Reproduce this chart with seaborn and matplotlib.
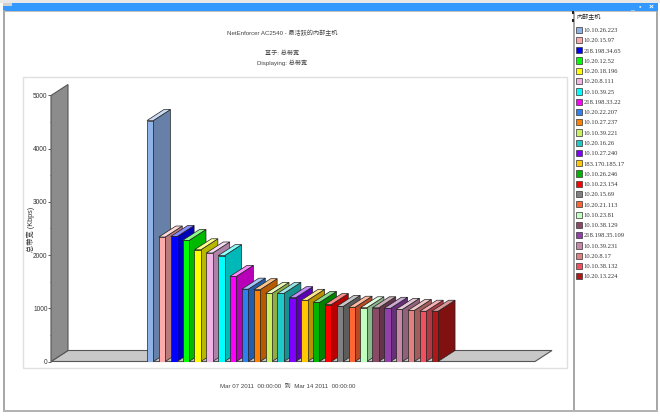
"""NetEnforcer top internal hosts: pseudo-3D bars drawn over a seaborn barplot."""

import matplotlib
matplotlib.use("Agg")
import matplotlib.pyplot as plt
import pandas as pd
import seaborn as sns
from matplotlib.colors import to_rgb
from matplotlib.patches import Patch, Polygon, Rectangle

hosts = [
    "10.10.26.223", "10.20.15.97", "218.198.34.65", "10.20.12.52", "10.20.18.196",
    "10.20.8.111", "10.10.39.25", "218.198.33.22", "10.20.22.207", "10.10.27.237",
    "10.10.39.221", "10.20.16.26", "10.10.27.240", "183.170.185.17", "10.10.26.246",
    "10.10.23.154", "10.20.15.69", "10.20.21.113", "10.10.23.81", "10.10.38.129",
    "218.198.35.109", "10.10.39.231", "10.20.8.17", "10.10.38.132", "10.20.13.224",
]
bandwidth = [
    4530, 2340, 2350, 2275, 2100, 2040, 1990, 1600, 1360, 1350, 1280, 1280, 1200,
    1150, 1110, 1070, 1035, 1020, 1010, 1010, 1000, 980, 960, 945, 945,
]
colors = [
    "#8fb2e8", "#ffaaaa", "#0000ff", "#00ff00", "#ffff00", "#f0b4e6", "#00ffff",
    "#ff00ff", "#2f80ee", "#ff7f00", "#c8f060", "#20c8c8", "#7f00ff", "#ffc800",
    "#00b400", "#ff0000", "#808080", "#ff6633", "#c0ffc0", "#8a4a66", "#9040a8",
    "#c888a8", "#e08080", "#f05060", "#b01818",
]
y_major = [0, 1000, 2000, 3000, 4000, 5000]
y_minor = [500, 1500, 2500, 3500, 4500]

W, H = 660, 419
DEPTH_X, DEPTH_Y = 17, 11   # pseudo-3D offset, pixels
FONT = ["Liberation Sans", "Noto Sans CJK SC", "DejaVu Sans"]
LEGEND_FONT = ["Liberation Serif", "Noto Sans CJK SC", "DejaVu Sans"]

sns.set_theme(style="white")
plt.rcParams["font.family"] = FONT

fig = plt.figure(figsize=(W / 100, H / 100), dpi=100, facecolor="white")


def px_rect(x0, y0, x1, y1, color, **kw):
    """Rectangle on the figure, in image pixels from the top left."""
    fig.add_artist(Rectangle((x0 / W, 1 - y1 / H), (x1 - x0) / W, (y1 - y0) / H,
                             transform=fig.transFigure, facecolor=color, zorder=-1,
                             edgecolor=kw.pop("edge", "none"), linewidth=kw.pop("lw", 0), **kw))


def px_text(x, y, s, **kw):
    fig.text(x / W, 1 - y / H, s, va="center", **kw)


# ── Window chrome ─────────────────────────────────────────────────────────────
px_rect(0, 0, W, 3, "#e8e8e8")
px_rect(3, 3, 658, 11, "#3399ff")
px_rect(3, 3, 12, 6, "#d0d0d0")
px_rect(3, 10, 5, 410, "#a8a8a8")
px_rect(3, 410, 658, 412, "#b4b4b4")
px_rect(573, 11, 575, 410, "#a8a8a8")
px_rect(656, 11, 658, 410, "#a8a8a8")
px_rect(5, 11, 656, 12, "#c0c0c0")
px_rect(572, 11, 574, 14, "#222222")
px_rect(572, 19, 574, 22, "#222222")
px_rect(23, 77, 567, 368, "white", edge="#e0e0e0", lw=1)
px_text(651, 7, "×", color="white", fontsize=6, ha="center", fontweight="bold")
px_text(640, 7, "▪", color="#d8e8ff", fontsize=5, ha="center")
px_text(632, 8, "_", color="white", fontsize=5, ha="center")

# ── Bars ──────────────────────────────────────────────────────────────────────
# axes run from the y axis to the far end of the floor, 0 on the baseline
ax = fig.add_axes([51 / W, 1 - 361.5 / H, (552 - 51) / W, (361.5 - 84) / H])
ax.patch.set_alpha(0)
data = pd.DataFrame({"host": hosts, "bandwidth": bandwidth})
sns.barplot(data=data, x="host", y="bandwidth", hue="host", order=hosts, hue_order=hosts,
            palette=colors, legend=False, width=0.54, saturation=1, ax=ax,
            edgecolor="#222222", linewidth=0.5, zorder=5)

step = 11.86
x_left = -(150.2 - 51) / step
ax.set_xlim(x_left, x_left + (552 - 51) / step)
ax.set_ylim(0, (361.5 - 84) * 5000 / 266)
dx = DEPTH_X / step
dy = DEPTH_Y * 5000 / 266
wall_top = 5000
floor_right = x_left + (535 - 51) / step

# floor and back wall
ax.add_patch(Polygon([(x_left, 0), (floor_right, 0), (floor_right + dx, dy), (x_left + dx, dy)],
                     closed=True, facecolor="#c8c8c8", edgecolor="#555555", linewidth=0.8,
                     clip_on=False, zorder=1))
ax.add_patch(Polygon([(x_left, 0), (x_left + dx, dy), (x_left + dx, wall_top + dy), (x_left, wall_top)],
                     closed=True, facecolor="#8c8c8c", edgecolor="#555555", linewidth=0.8,
                     clip_on=False, zorder=1))

# side and top faces come from the bar rectangles seaborn drew; bars further
# right sit in front, so each one hides the side of the bar before it
bars = [p for p in ax.patches if isinstance(p, Rectangle)][:len(hosts)]
for i, bar in enumerate(bars):
    x0, x1 = bar.get_x(), bar.get_x() + bar.get_width()
    top = bar.get_height()
    base = to_rgb(bar.get_facecolor())
    side = tuple(c * 0.72 for c in base)
    lid = tuple(c + (1 - c) * 0.55 for c in base)
    z = 10 + i
    bar.set_zorder(z + 0.5)
    ax.add_patch(Polygon([(x1, 0), (x1 + dx, dy), (x1 + dx, top + dy), (x1, top)], closed=True,
                         facecolor=side, edgecolor="#222222", linewidth=0.5, zorder=z, clip_on=False))
    ax.add_patch(Polygon([(x0, top), (x1, top), (x1 + dx, top + dy), (x0 + dx, top + dy)], closed=True,
                         facecolor=lid, edgecolor="#222222", linewidth=0.5, zorder=z, clip_on=False))

# ── Axes ──────────────────────────────────────────────────────────────────────
sns.despine(ax=ax, left=True, bottom=True)
ax.set_xticks([])
ax.set_xlabel("")
ax.set_ylabel("总带宽 (Kbps)", fontsize=5.2, color="#333333", labelpad=0)
ax.yaxis.set_label_coords((35 - 51) / (552 - 51), (361.5 - 229) / (361.5 - 84))
ax.set_yticks(y_major)
ax.set_yticks(y_minor, minor=True)
ax.tick_params(axis="y", which="major", length=2, width=0.6, color="#444444", left=True,
               labelsize=4.7, labelcolor="#333333", pad=0.5)
ax.tick_params(axis="y", which="minor", length=1, width=0.5, color="#444444", left=True)

# ── Titles ────────────────────────────────────────────────────────────────────
title_kw = dict(ha="center", color="#444444", fontsize=4.4)
px_text(282, 33, "NetEnforcer AC2540 - 最活跃的内部主机", **title_kw)
px_text(282, 53, "基于: 总带宽", **title_kw)
px_text(282, 63, "Displaying: 总带宽", **title_kw)
px_text(287.5, 386, "Mar 07 2011  00:00:00  到  Mar 14 2011  00:00:00", **title_kw)

# ── Legend ────────────────────────────────────────────────────────────────────
handles = [Patch(facecolor=c, edgecolor="#333333", linewidth=0.5, label=h)
           for c, h in zip(colors, hosts)]
leg = fig.legend(handles=handles, loc="upper left", bbox_to_anchor=(575.5 / W, 1 - 26 / H),
                 frameon=False, prop={"family": LEGEND_FONT, "size": 4.7}, labelcolor="#333333",
                 handlelength=0.95, handleheight=1.1, handletextpad=0.2, borderpad=0.1,
                 borderaxespad=0, labelspacing=0.6)
px_text(576, 17, "内部主机", color="#222222", fontsize=4.4, ha="left",
        family=["Noto Sans CJK SC", "DejaVu Sans"])

fig.savefig("out.png", dpi=100, facecolor="white")
